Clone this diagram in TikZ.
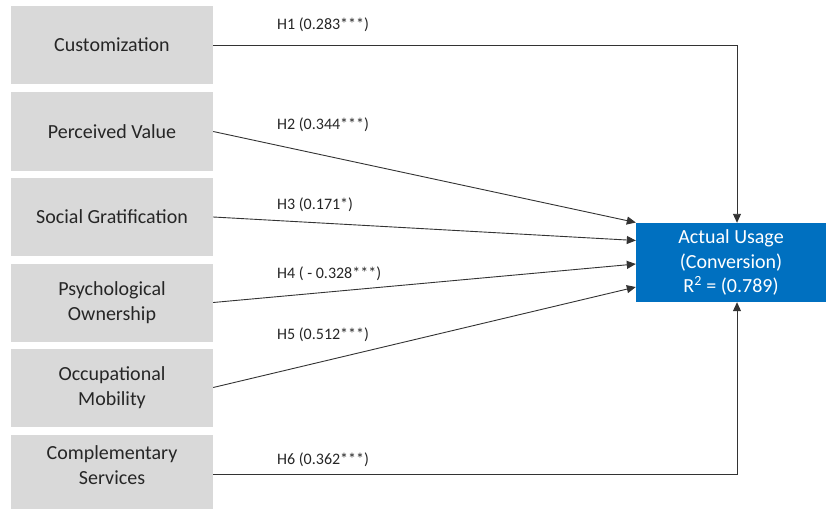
\documentclass[tikz,border=0pt]{standalone}
\usepackage{fontspec}
\setmainfont{Carlito}
\usetikzlibrary{arrows.meta}
\definecolor{boxgray}{HTML}{D9D9D9}
\definecolor{usageblue}{HTML}{0070C0}
\definecolor{inktext}{HTML}{262626}
\begin{document}
\begin{tikzpicture}[x=1pt,y=-1pt,
  construct/.style={rectangle, fill=boxgray, draw=none, minimum width=202pt,
    minimum height=78pt, align=center, text=inktext,
    font=\fontsize{20}{25}\selectfont},
  outcome/.style={rectangle, fill=usageblue, draw=none, minimum width=190pt,
    minimum height=79pt, align=center, text=white,
    font=\fontsize{20}{24.5}\selectfont},
  path label/.style={anchor=west, inner sep=0pt, text=inktext,
    font=\fontsize{16}{19}\selectfont},
  conn/.style={draw=black!80, line width=0.9pt,
    -{Triangle[length=9pt,width=8pt]}}]
\useasboundingbox (0,0) rectangle (826,508);

% antecedent constructs
\node[construct] (cust) at (112,45)    {Customization};
\node[construct] (perc) at (112,131.5) {Perceived Value};
\node[construct] (soc)  at (112,217)   {Social Gratification};
\node[construct] (psy)  at (112,302.5) {Psychological\\Ownership};
\node[construct] (occ)  at (112,387.5) {Occupational\\Mobility};
\node[construct, minimum height=60pt] (comp) at (112,465) {Complementary\\Services};
\fill[boxgray] (comp.south west) rectangle ([yshift=-14pt]comp.south east);

% outcome construct
\node[outcome] (act) at (731,262.5) {Actual Usage\\(Conversion)\\R\textsuperscript{2} = (0.789)};

% paths
\draw[conn] (cust.east) -| ([xshift=6pt]act.north);
\draw[conn] (perc.east) -- ([yshift=40pt]act.west);
\draw[conn] (soc.east)  -- ([yshift=22pt]act.west);
\draw[conn] (psy.east)  -- ([yshift=-1.5pt]act.west);
\draw[conn] (occ.east)  -- ([yshift=-24.5pt]act.west);
\draw[conn] ([yshift=-9pt]comp.east) -| ([xshift=6pt]act.south);

% path coefficients
\node[path label] (l1) at (277,25)  {H1 (0.283***)};
\node[path label] (l2) at (277,125) {H2 (0.344***)};
\node[path label] (l3) at (277,205) {H3 (0.171*)};
\node[path label] (l4) at (277,274) {H4 ( - 0.328***)};
\node[path label] (l5) at (277,335) {H5 (0.512***)};
\node[path label] (l6) at (277,460) {H6 (0.362***)};
\end{tikzpicture}
\end{document}
